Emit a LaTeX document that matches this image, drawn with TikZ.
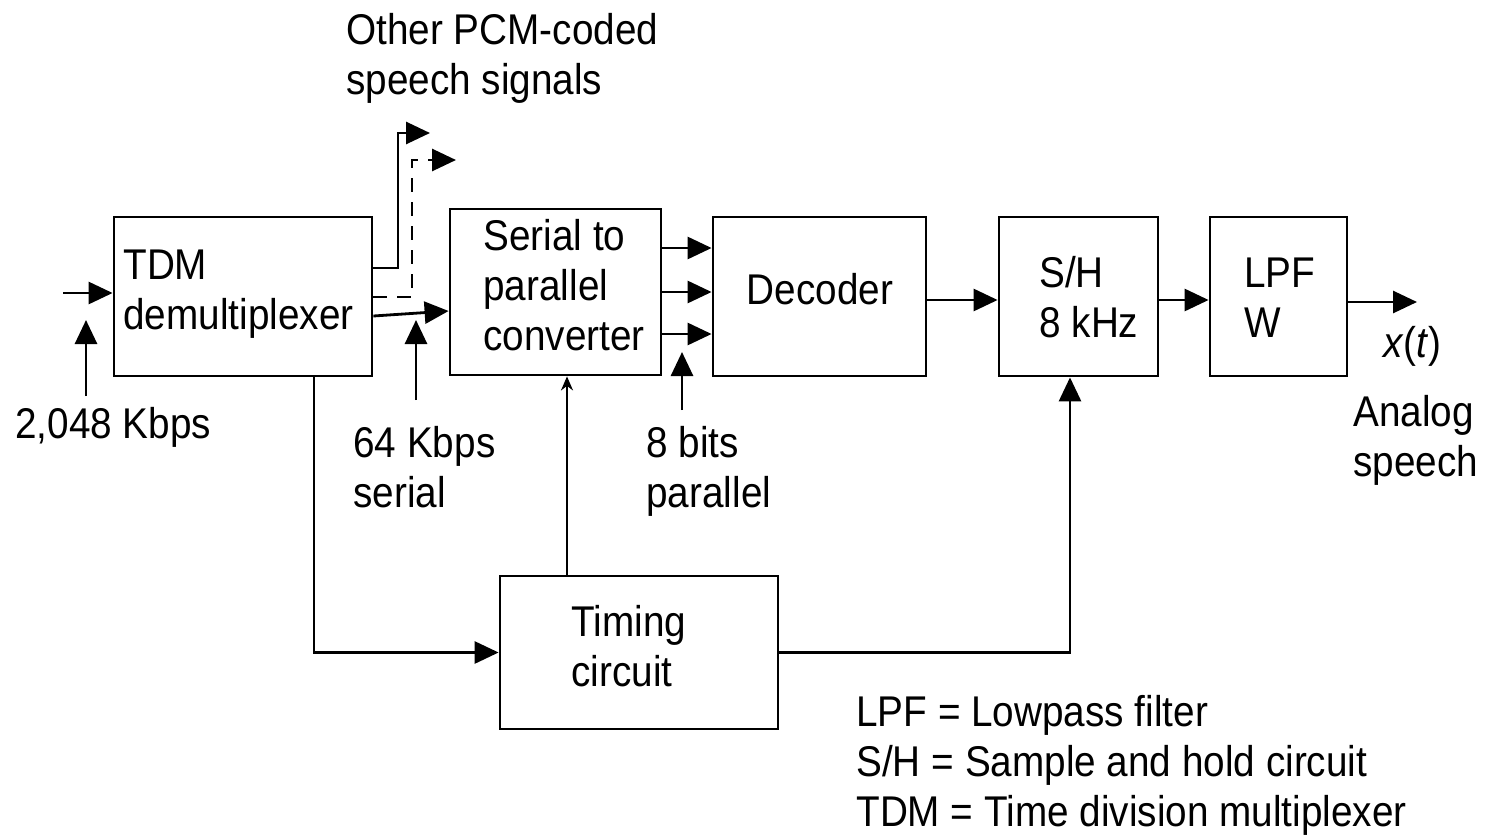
\documentclass[tikz,border=0pt]{standalone}
\usepackage{fontspec}
\setmainfont{Liberation Sans}[FakeStretch=0.9]
\usetikzlibrary{arrows.meta,calc}
\begin{document}
\begin{tikzpicture}[x=1pt,y=-1pt,
  line width=2.8pt,
  box/.style={draw, rectangle, inner sep=0pt},
  txt/.style={inner sep=0pt, align=left, anchor=base west, font=\fontsize{43}{50}\selectfont},
  arr/.style={-{Triangle[length=24pt,width=22pt]}},
  thinarr/.style={line width=2.2pt,-{Stealth[length=14pt,width=12pt]}}
]
\useasboundingbox (0,0) rectangle (1485,835);
% boxes
\node[box, minimum width=258pt, minimum height=159pt] (tdm) at (243,296.5) {};
\node[box, minimum width=211pt, minimum height=166pt] (sp) at (555.5,292) {};
\node[box, minimum width=213pt, minimum height=159pt] (dec) at (819.5,296.5) {};
\node[box, minimum width=159pt, minimum height=159pt] (sh) at (1078.5,296.5) {};
\node[box, minimum width=137pt, minimum height=159pt] (lpf) at (1278.5,296.5) {};
\node[box, minimum width=278pt, minimum height=153pt] (tim) at (639,652.5) {};
% box texts (anchor = baseline of last line)
\node[txt] (tdmt) at (122,329) {TDM\\demultiplexer};
\node[txt] (spt) at (482,350) {Serial to\\parallel\\converter};
\node[txt, anchor=base] (dect) at (820,304) {Decoder};
\node[txt] (sht) at (1038,337) {S/H\\8 kHz};
\node[txt] (lpft) at (1243,337) {LPF\\W};
\node[txt] (timt) at (570,686) {Timing\\circuit};
% other labels
\node[txt] (other) at (345,94) {Other PCM-coded\\speech signals};
\node[txt] (rate1) at (14,438) {2,048 Kbps};
\node[txt] (rate2) at (352,507) {64 Kbps\\serial};
\node[txt] (bits) at (645,507) {8 bits\\parallel};
\node[txt] (xt) at (1382,357) {\textit{x}(\textit{t})};
\node[txt] (analog) at (1352,476) {Analog\\speech};
\node[txt] (legend) at (855,826) {LPF = Lowpass filter\\S/H = Sample and hold circuit\\TDM = Time division multiplexer};
% coordinates
\coordinate (in) at (63,293);
\coordinate (r1a) at (86,396);
\coordinate (r1b) at (86,320);
\coordinate (o1) at (430,133);
\coordinate (o2) at (456,160);
\coordinate (r2a) at (416,400);
\coordinate (r2b) at (416,320);
\coordinate (r3a) at (682,410);
\coordinate (r3b) at (682,352);
\coordinate (out) at (1417,302);
% connectors
\draw[arr] (in) -- (in -| tdm.west);
\draw[arr] (r1a) -- (r1b);
\draw[arr] (tdm.east |- 0,268) -- (398,268) -- (398,133) -- (o1);
\draw[arr, dash pattern=on 14pt off 10pt] (tdm.east |- 0,297) -- (412,297) -- (412,160) -- (o2);
\draw[arr] (tdm.east |- 0,316) -- (sp.west |- 0,311);
\draw[arr] (r2a) -- (r2b);
\draw[arr] (sp.east |- 0,248) -- (dec.west |- 0,248);
\draw[arr] (sp.east |- 0,292) -- (dec.west |- 0,292);
\draw[arr] (sp.east |- 0,334) -- (dec.west |- 0,334);
\draw[arr] (r3a) -- (r3b);
\draw[arr] (dec.east |- 0,300) -- (sh.west |- 0,300);
\draw[arr] (sh.east |- 0,300) -- (lpf.west |- 0,300);
\draw[arr] (lpf.east |- out) -- (out);
\draw[arr] (tdm.south -| 314,0) |- (tim.west);
\draw[thinarr] (tim.north -| 567,0) -- (sp.south -| 567,0);
\draw[arr] (tim.east) -| (sh.south -| 1070,0);
\end{tikzpicture}
\end{document}
